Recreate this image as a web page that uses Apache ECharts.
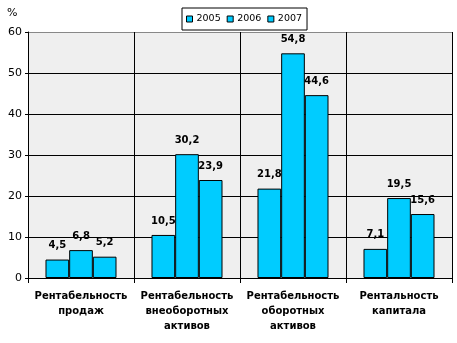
<!DOCTYPE html>
<html>
<head>
<meta charset="utf-8">
<style>
  html, body { margin: 0; padding: 0; background: #fff; }
  #chart { width: 457px; height: 343px; }
</style>
<script src="https://cdn.jsdelivr.net/npm/echarts@6/dist/echarts.min.js"></script>
</head>
<body>
<div id="chart"></div>
<script>
// Категории показателей рентабельности
const categories = [
  'Рентабельность\nпродаж',
  'Рентабельность\nвнеоборотных\nактивов',
  'Рентабельность\nоборотных\nактивов',
  'Рентальность\nкапитала'
];
const years = ['2005', '2006', '2007'];
const values2005 = [4.5, 10.5, 21.8, 7.1];
const values2006 = [6.8, 30.2, 54.8, 19.5];
const values2007 = [5.2, 23.9, 44.6, 15.6];
const yTicks = { min: 0, max: 60, step: 10 };

const FONT = 'DejaVu Sans';
const BAR = '#00CCFF';

const seriesData = [values2005, values2006, values2007];

const chart = echarts.init(document.getElementById('chart'), null, { renderer: 'canvas' });

chart.setOption({
  animation: false,
  textStyle: { fontFamily: FONT, color: '#000' },
  graphic: [{
    type: 'text', left: 7, top: 8,
    style: { text: '%', font: '11px ' + FONT, fill: '#000' }
  }],
  legend: {
    data: years,
    left: 182, top: 8,
    padding: [6, 5, 6, 4],
    itemGap: 6,
    itemWidth: 6, itemHeight: 6,
    icon: 'rect',
    backgroundColor: '#fff',
    borderColor: '#000', borderWidth: 1, borderRadius: 0,
    textStyle: { fontFamily: FONT, fontSize: 9.5, color: '#000', padding: [0, 0, 0, -1] },
    itemStyle: { borderColor: '#000', borderWidth: 1 }
  },
  grid: {
    left: 28, right: 5, top: 32, bottom: 65,
    show: true, backgroundColor: '#efefef', borderWidth: 0
  },
  xAxis: {
    type: 'category',
    data: categories,
    axisLine: { lineStyle: { color: '#000', width: 1 } },
    axisTick: { show: true, length: 5, lineStyle: { color: '#000' } },
    splitLine: { show: true, lineStyle: { color: '#000', width: 1 } },
    axisLabel: {
      interval: 0, margin: 11,
      fontFamily: FONT, fontSize: 10, fontWeight: 'bold', color: '#000',
      lineHeight: 15
    }
  },
  yAxis: {
    type: 'value',
    min: yTicks.min, max: yTicks.max, interval: yTicks.step,
    axisLine: { show: true, lineStyle: { color: '#000', width: 1 } },
    axisTick: { show: true, length: 3, lineStyle: { color: '#000' } },
    splitLine: {
      show: true,
      lineStyle: { color: ['#000', '#000', '#000', '#000', '#000', '#000', '#888'], width: 1 }
    },
    axisLabel: { fontFamily: FONT, fontSize: 11, color: '#000', margin: 6 }
  },
  series: years.map((y, i) => ({
    name: y,
    type: 'bar',
    data: seriesData[i],
    barGap: '0%',
    barCategoryGap: '33%',
    itemStyle: { color: BAR, borderColor: '#000', borderWidth: 1, borderRadius: 0 },
    label: {
      show: true, position: 'top', distance: 9,
      fontFamily: FONT, fontSize: 10, fontWeight: 'bold', color: '#000',
      formatter: p => String(p.value).replace('.', ',')
    }
  }))
});
</script>
</body>
</html>
